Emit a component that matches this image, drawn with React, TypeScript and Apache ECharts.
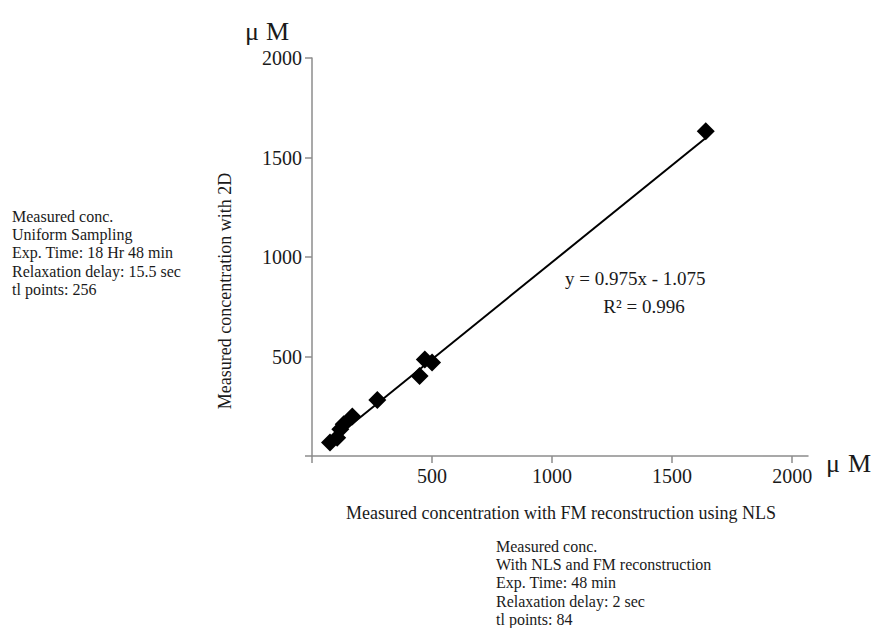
import React, { useEffect, useRef } from "react";
import * as echarts from "echarts";

// Data
const measuredFM = [75, 105, 118, 132, 168, 272, 448, 470, 500, 1640];
const measured2D = [68, 92, 135, 160, 198, 282, 402, 485, 470, 1632];
const xTickLabels = [500, 1000, 1500, 2000];
const yTickLabels = [500, 1000, 1500, 2000];
const axisTicks = [0, 500, 1000, 1500, 2000];
const trendSlope = 0.975;
const trendIntercept = -1.075;
const equationText = "y = 0.975x - 1.075";
const r2Text = "R² = 0.996";
const leftNote = [
  "Measured conc.",
  "Uniform Sampling",
  "Exp. Time: 18 Hr 48 min",
  "Relaxation delay: 15.5 sec",
  "tl points: 256",
];
const bottomNote = [
  "Measured conc.",
  "With NLS and FM reconstruction",
  "Exp. Time: 48 min",
  "Relaxation delay: 2 sec",
  "tl points: 84",
];
const xTitle = "Measured concentration with FM reconstruction using NLS";
const yTitle = "Measured concentration with 2D";
const unitMu = "μ";
const unitM = "M";

const FONT = "'Liberation Serif', 'Times New Roman', serif";
const TXT = "#1a1a1a";
const AXIS = "#8c8c8c";

export default function App() {
  const ref = useRef<HTMLDivElement>(null);

  useEffect(() => {
    document.body.style.margin = "0";
    if (!ref.current) return;
    const chart = echarts.init(ref.current, undefined, { renderer: "svg" });

    const points = measuredFM.map((x, i) => [x, measured2D[i]]);
    const minX = Math.min(...measuredFM);
    const maxX = Math.max(...measuredFM);
    const trend = [
      [minX, trendSlope * minX + trendIntercept],
      [maxX, trendSlope * maxX + trendIntercept],
    ];

    const axisCommon = {
      type: "value" as const,
      min: 0,
      interval: 500,
      axisLine: { show: true, onZero: false, lineStyle: { color: AXIS, width: 1.5 } },
      axisTick: {
        show: true,
        length: 7,
        customValues: axisTicks,
        lineStyle: { color: AXIS, width: 1.5 },
      },
      splitLine: { show: false },
    };

    const labelStyle = {
      margin: 10,
      fontFamily: FONT,
      fontSize: 20,
      color: TXT,
      formatter: (v: number) => String(v),
    };

    chart.setOption({
      animation: false,
      backgroundColor: "#ffffff",
      grid: { left: 312, top: 58, width: 496, height: 398 },
      xAxis: {
        ...axisCommon,
        max: 2066,
        axisLabel: { ...labelStyle, customValues: xTickLabels },
      },
      yAxis: {
        ...axisCommon,
        max: 2000,
        axisLabel: { ...labelStyle, customValues: yTickLabels },
      },
      series: [
        {
          type: "line",
          data: trend,
          symbol: "none",
          lineStyle: { color: "#000", width: 2 },
          z: 2,
        },
        {
          type: "scatter",
          data: points,
          symbol: "diamond",
          symbolSize: 18,
          itemStyle: { color: "#000", opacity: 1 },
          z: 3,
        },
      ],
      graphic: [
        {
          type: "text",
          x: 12,
          y: 207,
          style: {
            text: leftNote.join("\n"),
            fontFamily: FONT,
            fontSize: 16,
            lineHeight: 18.3,
            fill: TXT,
            align: "left",
            verticalAlign: "top",
          },
        },
        {
          type: "text",
          x: 496,
          y: 537,
          style: {
            text: bottomNote.join("\n"),
            fontFamily: FONT,
            fontSize: 16,
            lineHeight: 18.3,
            fill: TXT,
            align: "left",
            verticalAlign: "top",
          },
        },
        {
          type: "text",
          x: 561,
          y: 513,
          style: {
            text: xTitle,
            fontFamily: FONT,
            fontSize: 18,
            fill: TXT,
            align: "center",
            verticalAlign: "middle",
          },
        },
        {
          type: "text",
          x: 225,
          y: 291,
          rotation: Math.PI / 2,
          style: {
            text: yTitle,
            fontFamily: FONT,
            fontSize: 18,
            fill: TXT,
            align: "center",
            verticalAlign: "middle",
          },
        },
        {
          type: "text",
          x: 565,
          y: 278,
          style: {
            text: equationText,
            fontFamily: FONT,
            fontSize: 19,
            fill: TXT,
            align: "left",
            verticalAlign: "middle",
          },
        },
        {
          type: "text",
          x: 644,
          y: 306,
          style: {
            text: r2Text,
            fontFamily: FONT,
            fontSize: 19,
            fill: TXT,
            align: "center",
            verticalAlign: "middle",
          },
        },
        // y-axis unit
        {
          type: "text",
          x: 245,
          y: 31,
          style: { text: unitMu, fontFamily: FONT, fontSize: 26, fill: TXT, align: "left", verticalAlign: "middle" },
        },
        {
          type: "text",
          x: 266,
          y: 31,
          style: { text: unitM, fontFamily: FONT, fontSize: 26, fill: TXT, align: "left", verticalAlign: "middle" },
        },
        // x-axis unit
        {
          type: "text",
          x: 826,
          y: 463,
          style: { text: unitMu, fontFamily: FONT, fontSize: 26, fill: TXT, align: "left", verticalAlign: "middle" },
        },
        {
          type: "text",
          x: 848,
          y: 463,
          style: { text: unitM, fontFamily: FONT, fontSize: 26, fill: TXT, align: "left", verticalAlign: "middle" },
        },
      ],
    });

    return () => chart.dispose();
  }, []);

  return <div ref={ref} style={{ width: 877, height: 628 }} />;
}
